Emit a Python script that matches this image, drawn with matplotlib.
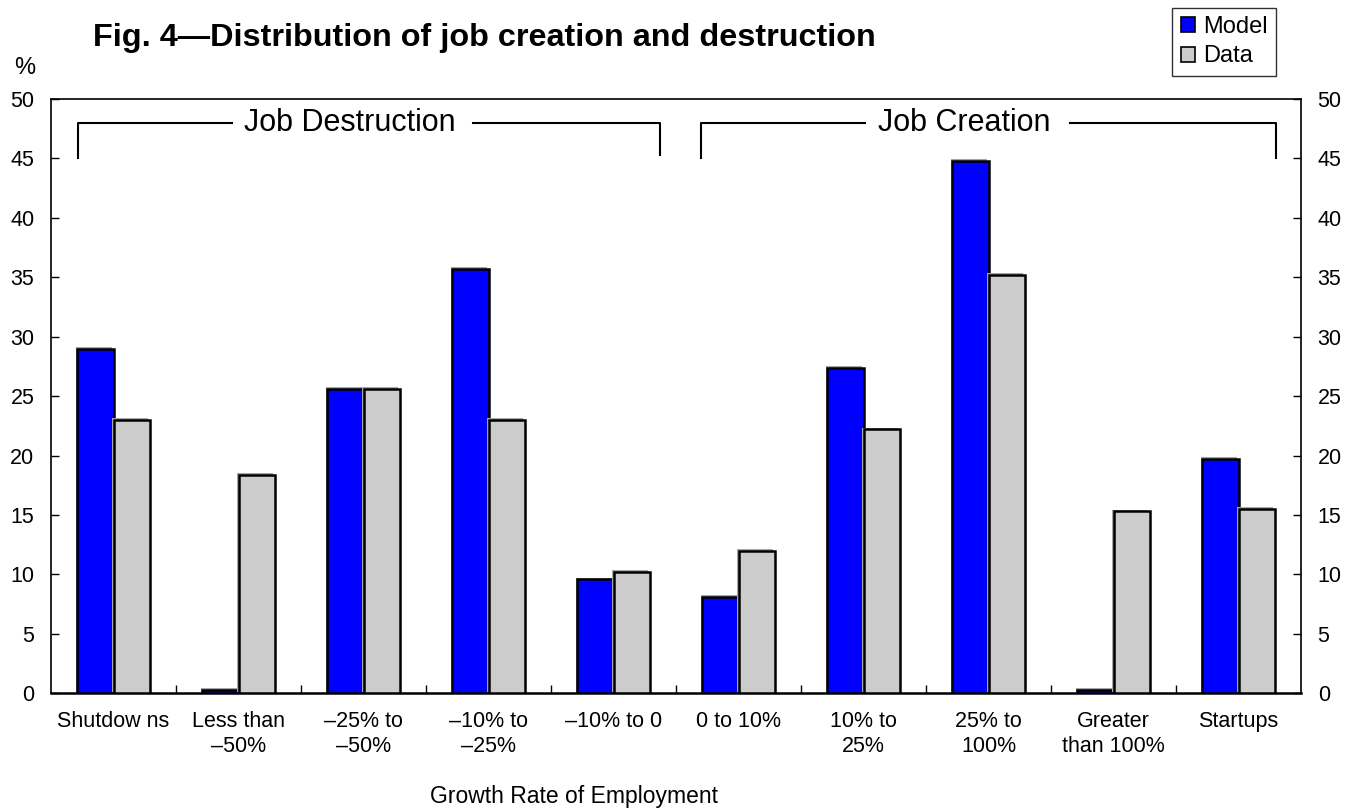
import matplotlib
matplotlib.use("Agg")
import matplotlib.pyplot as plt
import matplotlib.patheffects as pe
from matplotlib.patches import Patch
import numpy as np

plt.rcParams['font.family'] = ['Liberation Sans', 'DejaVu Sans']

categories = ["Shutdow ns", "Less than\n\u201350%", "\u201325% to\n\u201350%",
              "\u201310% to\n\u201325%", "\u201310% to 0", "0 to 10%",
              "10% to\n25%", "25% to\n100%", "Greater\nthan 100%", "Startups"]
model = [29.0, 0.3, 25.6, 35.7, 9.6, 8.1, 27.4, 44.8, 0.3, 19.7]
data = [23.0, 18.4, 25.6, 23.0, 10.2, 12.0, 22.2, 35.2, 15.3, 15.5]
yticks = [0, 5, 10, 15, 20, 25, 30, 35, 40, 45, 50]

W, H = 1364, 809
fig = plt.figure(figsize=(W / 100, H / 100), dpi=100)
ax = fig.add_axes([51 / W, 1 - 693.3 / H, 1250 / W, 594.3 / H])

x = np.arange(len(categories))
bw = 0.29
shadow = [pe.SimplePatchShadow(offset=(-1.2, 1.2), shadow_rgbFace='0.65', alpha=1.0), pe.Normal()]
b1 = ax.bar(x - bw / 2, model, bw, color='#0000ff', edgecolor='black', linewidth=1.8, zorder=3)
b2 = ax.bar(x + bw / 2, data, bw, color='#cccccc', edgecolor='black', linewidth=1.8, zorder=3)
for r in list(b1) + list(b2):
    r.set_path_effects(shadow)

ax.set_xlim(-0.5, len(categories) - 0.5)
ax.set_ylim(0, 50)
ax.set_yticks(yticks)
ax.tick_params(axis='y', which='both', direction='in', length=6, width=1,
               left=True, right=True, labelleft=True, labelright=True,
               labelsize=15.5, pad=12)
ax.set_xticks(np.arange(0.5, len(categories) - 0.5, 1.0))
ax.set_xticklabels([])
ax.tick_params(axis='x', which='major', direction='in', length=6, width=1)
ax.set_xticks(x, minor=True)
ax.set_xticklabels(categories, minor=True, fontsize=15.5, linespacing=1.25)
ax.tick_params(axis='x', which='minor', length=0, pad=13)
for s in ax.spines.values():
    s.set_linewidth(1.2)
ax.spines['bottom'].set_linewidth(1.8)

# group brackets above the bars
lk = dict(color='black', lw=1.5, clip_on=False, zorder=4)
yb, yl = 48.0, 45.0
ax.plot([-0.284, -0.284, 0.948], [yl, yb, yb], **lk)
ax.plot([2.876, 4.372, 4.372], [yb, yb, 45.3], **lk)
ax.text(1.892, yb, "Job Destruction", ha='center', va='center', fontsize=22)
ax.plot([4.70, 4.70, 6.012], [yl, yb, yb], **lk)
ax.plot([7.652, 9.30, 9.30], [yb, yb, yl], **lk)
ax.text(6.804, yb, "Job Creation", ha='center', va='center', fontsize=22)

fig.text(93 / W, 1 - 46 / H, "Fig. 4\u2014Distribution of job creation and destruction",
         fontsize=23.3, fontweight='bold', ha='left', va='baseline')
fig.text(25 / W, 1 - 68 / H, "%", fontsize=17, ha='center', va='center')
fig.text(574 / W, 1 - 797 / H, "Growth Rate of Employment", fontsize=16.5,
         ha='center', va='center')

handles = [Patch(facecolor='#0000ff', edgecolor='black', linewidth=1.2, label='Model'),
           Patch(facecolor='#cccccc', edgecolor='black', linewidth=1.2, label='Data')]
leg = fig.legend(handles=handles, loc='upper right',
                 bbox_to_anchor=(1276 / W, 1 - 8 / H), bbox_transform=fig.transFigure,
                 fontsize=17, handlelength=0.6, handleheight=0.6, handletextpad=0.35,
                 borderpad=0.35, borderaxespad=0, labelspacing=0.3,
                 fancybox=False, frameon=True)
leg.get_frame().set_edgecolor('black')
leg.get_frame().set_linewidth(1.0)
leg._legend_box.sep = 0
leg.borderpad = 0.35

fig.savefig("out.png", dpi=100)
